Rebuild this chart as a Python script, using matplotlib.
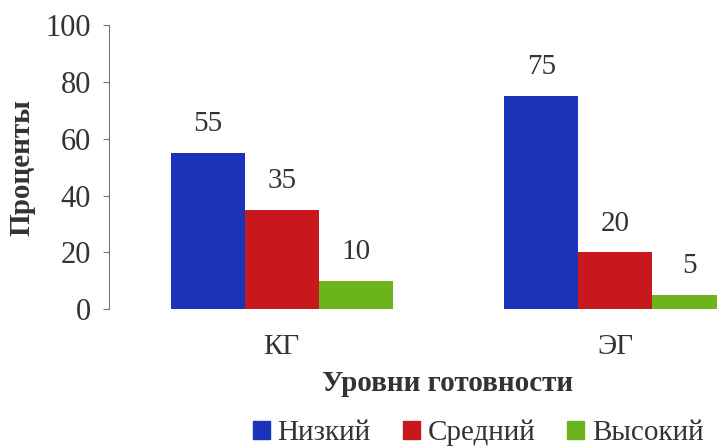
import numpy as np
import matplotlib
matplotlib.use("Agg")
import matplotlib.pyplot as plt
from matplotlib.patches import Patch

# data
groups = ["КГ", "ЭГ"]
levels = ["Низкий", "Средний", "Высокий"]
low = [55, 75]
mid = [35, 20]
high = [10, 5]
colors = ["#1a33b8", "#c8181e", "#6cb41c"]

plt.rcParams["font.family"] = ["Liberation Serif", "DejaVu Serif"]
txt = "#333333"

fig = plt.figure(figsize=(7.17, 4.48), dpi=100)
ax = fig.add_axes([0.152, 0.310, 0.848, 0.634])

x = np.arange(len(groups))
w = 0.222
for i, (vals, c) in enumerate(zip([low, mid, high], colors)):
    pos = x + (i - 1) * w
    bars = ax.bar(pos, vals, width=w, color=c, label=levels[i])
    for b, v in zip(bars, vals):
        ax.text(b.get_x() + b.get_width() / 2, v + 5.5, str(v),
                ha="center", va="bottom", fontsize=21, color=txt)

ax.set_xlim(-0.518, 1.305)
ax.set_ylim(0, 100)
ax.set_yticks([0, 20, 40, 60, 80, 100])
ax.set_xticks(x)
ax.set_xticklabels(groups)
ax.tick_params(axis="x", length=0, pad=18, labelsize=21, labelcolor=txt)
ax.tick_params(axis="y", direction="out", length=4, color="#777777",
               labelsize=22, labelcolor=txt, pad=9)
for s in ["top", "right", "bottom"]:
    ax.spines[s].set_visible(False)
ax.spines["left"].set_color("#777777")

fig.text(0.624, 0.145, "Уровни готовности", ha="center", va="center",
         fontsize=21, fontweight="bold", color=txt)
fig.text(0.031, 0.627, "Проценты", ha="center", va="center", rotation=90,
         fontsize=21, fontweight="bold", color=txt)

handles = [Patch(color=c, label=l) for c, l in zip(colors, levels)]
fig.legend(handles=handles, loc="center right", bbox_to_anchor=(1.01, 0.033),
           ncol=3, frameon=False, fontsize=21, handlelength=0.58,
           handleheight=0.58, handletextpad=0.27, columnspacing=1.1,
           labelcolor=txt, borderpad=0.2)

fig.savefig("out.png", dpi=100)
